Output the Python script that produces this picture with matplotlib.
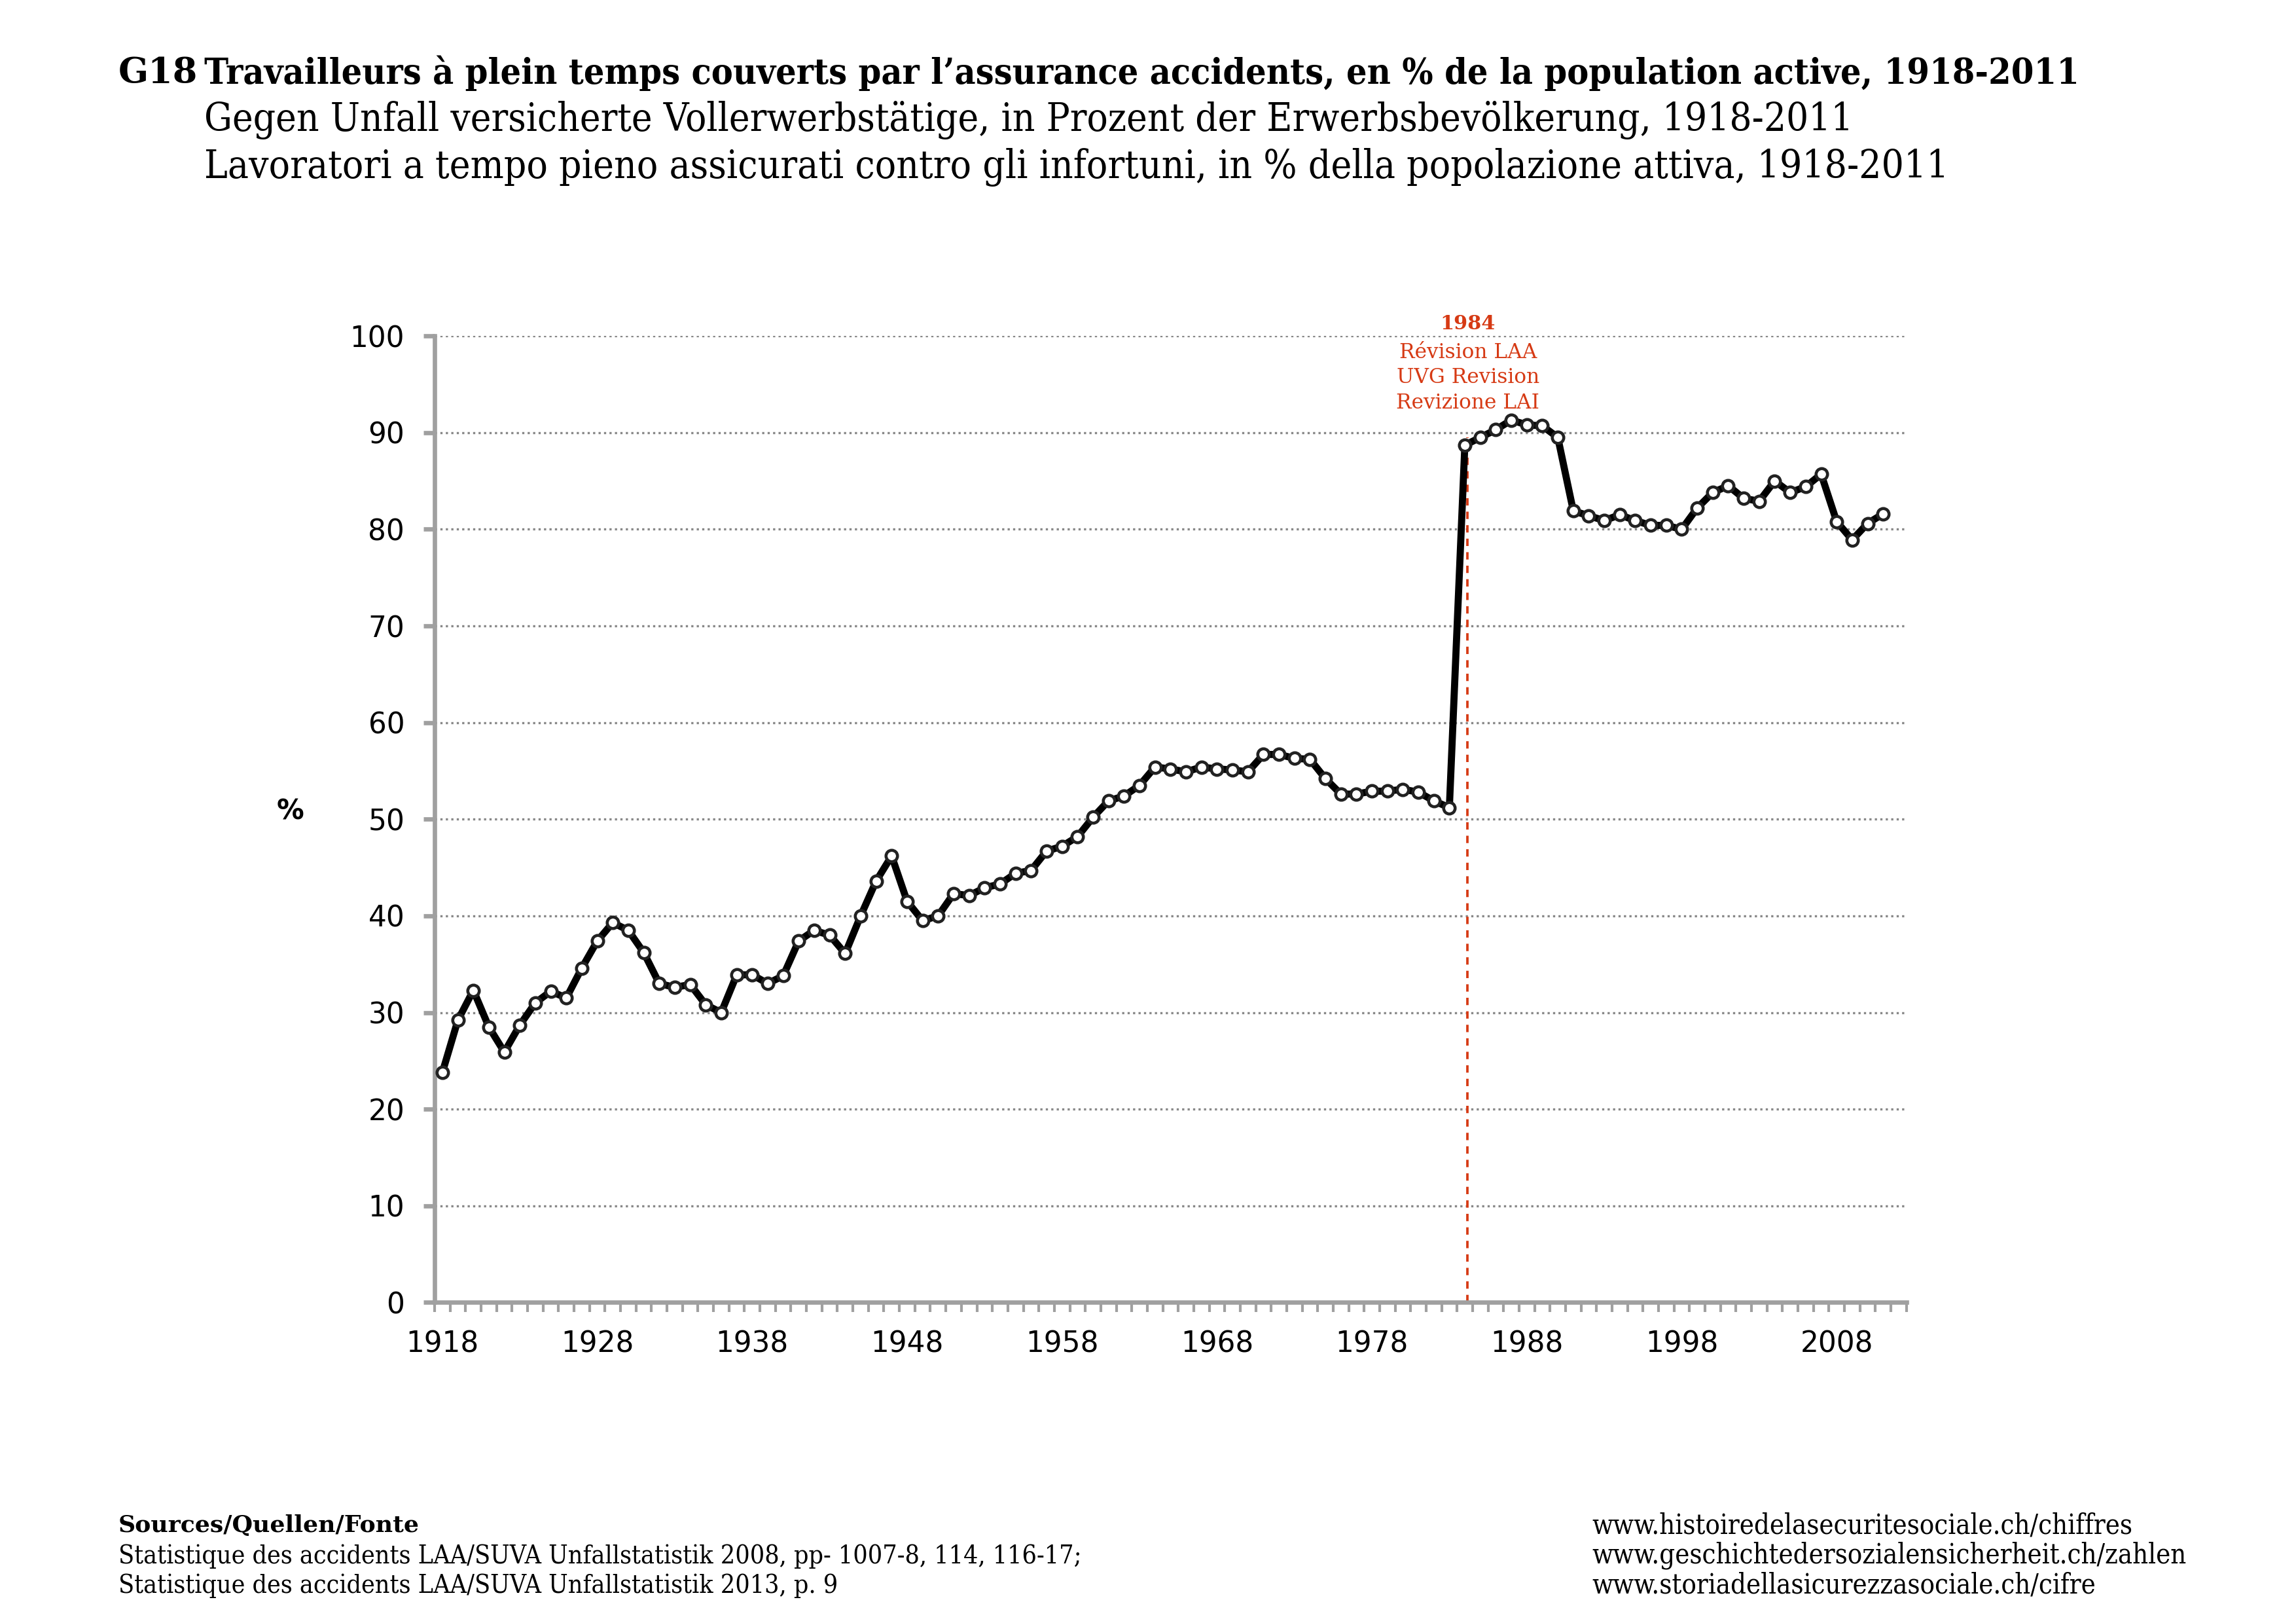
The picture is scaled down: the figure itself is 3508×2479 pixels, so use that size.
import matplotlib
matplotlib.use("Agg")
import matplotlib.pyplot as plt
import numpy as np
from matplotlib.ticker import MultipleLocator, FixedLocator

# data
years = list(range(1918, 2012))
values = [23.8, 29.2, 32.3, 28.5, 25.9, 28.7, 31.0, 32.2, 31.5, 34.6,
          37.4, 39.3, 38.5, 36.2, 33.0, 32.6, 32.9, 30.8, 30.0, 33.9,
          33.9, 33.0, 33.8, 37.4, 38.5, 38.0, 36.1, 40.0, 43.6, 46.2,
          41.5, 39.5, 40.0, 42.3, 42.1, 42.9, 43.3, 44.4, 44.7, 46.7,
          47.2, 48.2, 50.2, 51.9, 52.4, 53.5, 55.4, 55.2, 54.9, 55.4,
          55.2, 55.1, 54.9, 56.7, 56.7, 56.3, 56.2, 54.2, 52.6, 52.6,
          52.9, 52.9, 53.1, 52.8, 51.9, 51.2, 88.7, 89.5, 90.3, 91.3,
          90.8, 90.7, 89.5, 81.9, 81.4, 80.9, 81.5, 80.9, 80.4, 80.4,
          80.0, 82.2, 83.8, 84.5, 83.2, 82.9, 85.0, 83.8, 84.4, 85.7,
          80.8, 78.9, 80.6, 81.6]
year_labels = [1918, 1928, 1938, 1948, 1958, 1968, 1978, 1988, 1998, 2008]
event_year = 1984
event_lines = ["Révision LAA", "UVG Revision", "Revizione LAI"]

serif = "DejaVu Serif"
sans = "DejaVu Sans"
red = "#d63a14"
grey = "#a0a0a0"

fig = plt.figure(figsize=(3508 / 300, 2479 / 300), dpi=300)
ax = fig.add_axes([0.1893, 0.1975, 0.641, 0.5955])

ax.plot(years, values, color="black", lw=2.6, marker="o", ms=4.2,
        mfc="white", mec="#222222", mew=1.1, zorder=3)

# the red marker line sits just right of the 1984 point
ax.axvline(event_year + 0.15, ymin=0, ymax=0.895, color=red, lw=0.9,
           ls=(0, (3, 2.5)), zorder=2)
ax.text(event_year + 0.2, 100.3, "1984", color=red, fontsize=7.3,
        fontweight="bold", family=serif, ha="center", va="bottom")
for i, t in enumerate(event_lines):
    ax.text(event_year + 0.2, 98.3 - i * 2.6, t, color=red, fontsize=7.5,
            family=serif, ha="center", va="center")

ax.set_xlim(1917.5, 2012.5)
ax.set_ylim(0, 100)
ax.yaxis.set_major_locator(MultipleLocator(10))
ax.xaxis.set_major_locator(FixedLocator(year_labels))
ax.xaxis.set_minor_locator(FixedLocator(np.arange(1917.5, 2013, 1)))
ax.set_xticklabels([str(y) for y in year_labels])

ax.grid(axis="y", color="#888888", lw=0.8, ls=(0, (1, 1.5)), zorder=1)
for s in ["top", "right"]:
    ax.spines[s].set_visible(False)
for s in ["left", "bottom"]:
    ax.spines[s].set_color(grey)
    ax.spines[s].set_linewidth(1.6)

ax.tick_params(axis="y", direction="out", length=4, width=1.6, color=grey,
               pad=7, labelsize=10.5)
ax.tick_params(axis="x", which="major", length=0, pad=10, labelsize=10.5)
ax.tick_params(axis="x", which="minor", direction="out", length=3.5,
               width=1.0, color=grey)
for lab in ax.get_xticklabels() + ax.get_yticklabels():
    lab.set_family(sans)

fig.text(0.1263, 0.5, "%", fontsize=10, fontweight="bold", family=sans,
         ha="center", va="center")

# title block
fig.text(0.0515, 0.955, "G18", fontsize=13, fontweight="heavy", family=serif,
         va="center", ha="left")
fig.text(0.0889, 0.955, "Travailleurs à plein temps couverts par l’assurance accidents, en % de la population active, 1918-2011",
         fontsize=13.3, fontweight="bold", family=serif, va="center",
         fontstretch="condensed")
fig.text(0.0889, 0.926, "Gegen Unfall versicherte Vollerwerbstätige, in Prozent der Erwerbsbevölkerung, 1918-2011",
         fontsize=14.35, family=serif, va="center", fontstretch="condensed")
fig.text(0.0889, 0.897, "Lavoratori a tempo pieno assicurati contro gli infortuni, in % della popolazione attiva, 1918-2011",
         fontsize=14.4, family=serif, va="center", fontstretch="condensed")

# footer
fig.text(0.0515, 0.060, "Sources/Quellen/Fonte", fontsize=8.7, fontweight="heavy",
         family=serif, va="center")
fig.text(0.0515, 0.041, "Statistique des accidents LAA/SUVA Unfallstatistik 2008, pp- 1007-8, 114, 116-17;",
         fontsize=9.4, family=serif, va="center", fontstretch="condensed")
fig.text(0.0515, 0.023, "Statistique des accidents LAA/SUVA Unfallstatistik 2013, p. 9",
         fontsize=9.4, family=serif, va="center", fontstretch="condensed")
urls = ["www.histoiredelasecuritesociale.ch/chiffres",
        "www.geschichtedersozialensicherheit.ch/zahlen",
        "www.storiadellasicurezzasociale.ch/cifre"]
for i, u in enumerate(urls):
    fig.text(0.6935, 0.060 - i * 0.0185, u, fontsize=10, family=serif,
             va="center", fontstretch="condensed")

fig.savefig("out.png", dpi=300)
